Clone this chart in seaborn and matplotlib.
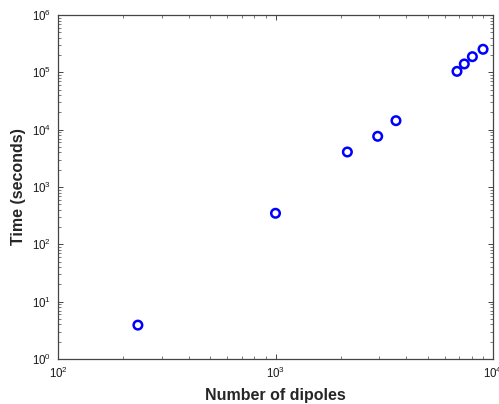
import numpy as np
import pandas as pd
import matplotlib
matplotlib.use("Agg")
import matplotlib.pyplot as plt
import seaborn as sns

# Solver run time against problem size
n_dipoles = [233, 1000, 2140, 2950, 3580, 6830, 7380, 8040, 9000]
time_seconds = [3.9, 348, 4080, 7660, 14350, 104000, 140000, 187600, 252500]

x_label = "Number of dipoles"
y_label = "Time (seconds)"

sns.set_style("ticks")
plt.rcParams["font.family"] = ["Liberation Sans", "DejaVu Sans"]
plt.rcParams["mathtext.default"] = "regular"

df = pd.DataFrame({"n": n_dipoles, "t": time_seconds})

fig = plt.figure(figsize=(4.99, 4.04), dpi=100)
ax = fig.add_axes([58 / 499, 45 / 404, 435 / 499, 344 / 404])

sns.scatterplot(data=df, x="n", y="t", ax=ax, marker="o", s=38,
                color="#0000ff", linewidth=1.8, zorder=3)
pts = ax.collections[0]
pts.set_facecolor("none")
pts.set_edgecolor("#0000ff")
pts.set_linewidth(1.8)

ax.set_xscale("log")
ax.set_yscale("log")
ax.set_xlim(1e2, 1e4)
ax.set_ylim(1e0, 1e6)

for side in ["left", "bottom", "top", "right"]:
    ax.spines[side].set_visible(True)
    ax.spines[side].set_color("#444444")
    ax.spines[side].set_linewidth(0.9)

ax.tick_params(which="both", direction="in", top=True, right=True,
               color="#444444", labelsize=8.3, labelcolor="#1a1a1a")
ax.tick_params(which="major", length=3.5, width=0.7, pad=5)
ax.tick_params(which="minor", length=2, width=0.5)

ax.set_xlabel(x_label, fontsize=11.5, fontweight="bold", labelpad=5)
ax.set_ylabel(y_label, fontsize=11.5, fontweight="bold", labelpad=4)

fig.savefig("out.png", dpi=100, facecolor="white")
